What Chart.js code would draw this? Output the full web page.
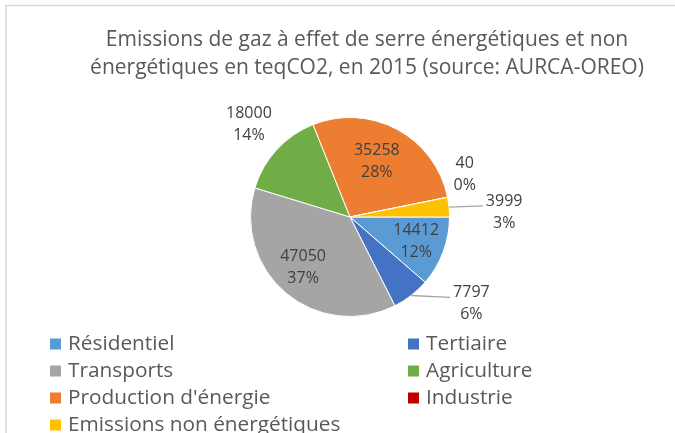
<!DOCTYPE html>
<html><head><meta charset="utf-8">
<script src="https://cdn.jsdelivr.net/npm/chart.js@4"></script>
<style>html,body{margin:0;padding:0;background:#fff;overflow:hidden}canvas{display:block}</style>
</head><body>
<canvas id="c" width="675" height="433"></canvas>
<script>
const categories = ['Résidentiel', 'Tertiaire', 'Transports', 'Agriculture', "Production d'énergie", 'Industrie', 'Emissions non énergétiques'];
const emissions = [14412, 7797, 47050, 18000, 35258, 40, 3999];
const titleLines = ['Emissions de gaz à effet de serre énergétiques et non', 'énergétiques en teqCO2, en 2015 (source: AURCA-OREO)'];

const sliceColors = ['#5B9BD5', '#4472C4', '#A5A5A5', '#70AD47', '#ED7D31', '#C00000', '#FFC000'];
const FONT = '"Open Sans", "DejaVu Sans", sans-serif';

function excelPercents(vals) {
  const tot = vals.reduce((a, b) => a + b, 0);
  const raw = vals.map(v => v / tot * 100);
  const fl = raw.map(Math.floor);
  const rem = 100 - fl.reduce((a, b) => a + b, 0);
  const order = raw.map((r, i) => [r - fl[i], i]).sort((a, b) => b[0] - a[0]);
  for (let k = 0; k < rem; k++) fl[order[k][1]]++;
  return fl;
}

const deco = {
  id: 'deco',
  afterLayout(chart, args, opts) {
    chart.titleBlock.left += opts.titleShift;
  },
  beforeDraw(chart) {
    const ctx = chart.ctx;
    ctx.save();
    ctx.strokeStyle = '#D9D9D9';
    ctx.lineWidth = 1.5;
    ctx.beginPath();
    ctx.moveTo(6, chart.height);
    ctx.lineTo(6, 5.5);
    ctx.lineTo(chart.width, 5.5);
    ctx.stroke();
    ctx.restore();
  },
  afterDatasetsDraw(chart, args, opts) {
    const ctx = chart.ctx;
    const meta = chart.getDatasetMeta(0);
    const vals = chart.data.datasets[0].data;
    const pcts = excelPercents(vals);
    ctx.save();
    ctx.font = '16px ' + FONT;
    ctx.textAlign = 'center';
    ctx.textBaseline = 'middle';
    meta.data.forEach((arc, i) => {
      const {x, y, startAngle, endAngle, outerRadius} = arc.getProps(['x', 'y', 'startAngle', 'endAngle', 'outerRadius'], true);
      const p = opts.placement[i];
      const mid = (startAngle + endAngle) / 2;
      const a = mid + p.da * Math.PI / 180;
      const cx = x + p.f * outerRadius * Math.cos(a);
      const cy = y + p.f * outerRadius * Math.sin(a);
      const l1 = String(vals[i]), l2 = pcts[i] + '%';
      if (p.line) {
        const w = Math.max(ctx.measureText(l1).width, ctx.measureText(l2).width);
        ctx.strokeStyle = '#A6A6A6';
        ctx.lineWidth = 1.3;
        ctx.beginPath();
        ctx.moveTo(x + outerRadius * Math.cos(mid), y + outerRadius * Math.sin(mid));
        ctx.lineTo(cx - w / 2 - 3, cy - 6.5);
        ctx.stroke();
      }
      ctx.fillStyle = '#404040';
      ctx.fillText(l1, cx, cy - 11);
      ctx.fillText(l2, cx, cy + 11);
    });
    ctx.restore();
  },
  afterDraw(chart, args, opts) {
    const ctx = chart.ctx;
    const ds = chart.data.datasets[0];
    ctx.save();
    ctx.font = '20.8px ' + FONT;
    ctx.textBaseline = 'middle';
    ctx.textAlign = 'left';
    chart.data.labels.forEach((lab, i) => {
      const col = i % 2, row = Math.floor(i / 2);
      const x0 = opts.colX[col], yc = opts.rowY0 + row * opts.rowGap;
      ctx.fillStyle = ds.backgroundColor[i];
      ctx.fillRect(x0, yc - 6, 11, 11);
      ctx.fillStyle = '#595959';
      ctx.fillText(lab, x0 + 18, yc);
    });
    ctx.restore();
  }
};

new Chart(document.getElementById('c'), {
  type: 'pie',
  data: {
    labels: categories,
    datasets: [{
      data: emissions,
      backgroundColor: sliceColors,
      borderColor: '#FFFFFF',
      borderWidth: 1
    }]
  },
  options: {
    responsive: false,
    animation: false,
    rotation: 90,
    events: [],
    layout: { padding: { top: 0, left: 25, right: 0, bottom: 116 } },
    plugins: {
      legend: { display: false },
      tooltip: { enabled: false },
      title: {
        display: true,
        text: titleLines,
        color: '#595959',
        font: { family: FONT, size: 21, weight: 'normal', lineHeight: 1.333 },
        padding: { top: 26, bottom: 35 }
      },
      deco: {
        titleShift: 34,
        colX: [50, 408],
        rowY0: 344.5,
        rowGap: 27,
        placement: [
          { f: 0.71, da: 0 },
          { f: 1.50, da: -16.5, line: true },
          { f: 0.69, da: 3 },
          { f: 1.38, da: 0 },
          { f: 0.62, da: -2.6 },
          { f: 1.23, da: -9 },
          { f: 1.55, da: 4, line: true }
        ]
      }
    }
  },
  plugins: [deco]
});
</script>
</body></html>
